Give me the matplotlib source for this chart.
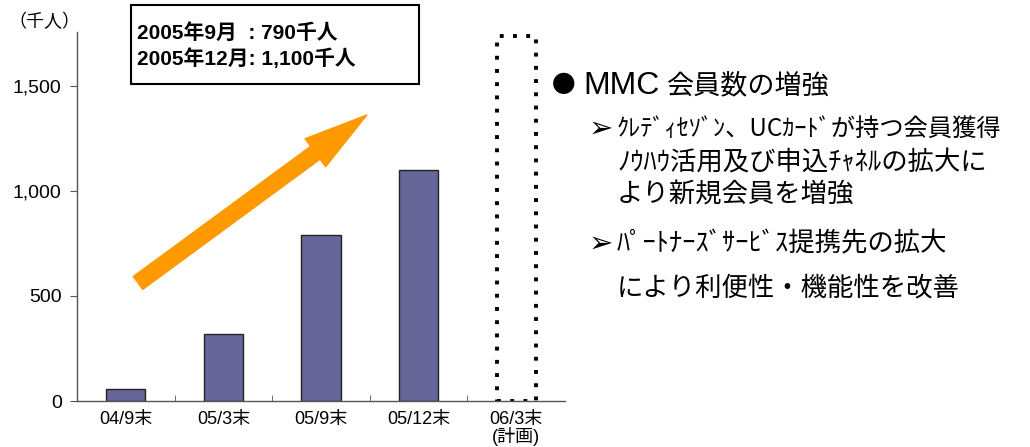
import matplotlib
matplotlib.use("Agg")
from matplotlib import pyplot as plt
import numpy as np

# data
categories = ["04/9末", "05/3末", "05/9末", "05/12末", "06/3末\n(計画)"]
members = [55, 320, 790, 1100]      # 千人, actual
plan_value = 1740                   # dotted outline for 06/3 plan
yticks = [0, 500, 1000, 1500]
ytick_labels = ["0", "500", "1,000", "1,500"]
box_lines = ["2005年9月  : 790千人", "2005年12月: 1,100千人"]
title_latin = "MMC"
title_jp = "会員数の増強"
sub_lines = [
    ("➢", "ｸﾚﾃﾞｨｾｿﾞﾝ、UCｶｰﾄﾞが持つ会員獲得"),
    ("", "ﾉｳﾊｳ活用及び申込ﾁｬﾈﾙの拡大に"),
    ("", "より新規会員を増強"),
    ("➢", "ﾊﾟｰﾄﾅｰｽﾞｻｰﾋﾞｽ提携先の拡大"),
    ("", "により利便性・機能性を改善"),
]

latin_cjk = ["Liberation Sans", "Noto Sans CJK JP"]
cjk = ["Noto Sans CJK JP", "DejaVu Sans"]

W, H = 1030, 447
fig = plt.figure(figsize=(W / 100, H / 100), dpi=100)
ax = fig.add_axes([77 / W, 1 - 401 / H, 488 / W, 369 / H])

x = np.arange(len(categories))
ax.bar(x[:len(members)], members, width=0.4, color="#666699",
       edgecolor="#222222", linewidth=1.0, zorder=2)
ax.bar(x[-1], plan_value, width=0.4, fill=False, edgecolor="black",
       linewidth=2.8, linestyle=(0, (1, 2.4)), zorder=2)

ax.set_xlim(-0.5, len(categories) - 0.5)
ax.set_ylim(0, 1757)

for s in ["top", "right"]:
    ax.spines[s].set_visible(False)
for s in ["left", "bottom"]:
    ax.spines[s].set_color("#555555")
    ax.spines[s].set_linewidth(1.0)

ax.set_yticks(yticks)
ax.set_yticklabels(ytick_labels, family="Liberation Sans", fontsize=14)
ax.tick_params(axis="y", direction="out", length=5, color="#555555", pad=6)

ax.set_xticks(x)
ax.set_xticklabels(categories, family=latin_cjk, fontsize=13, linespacing=0.95)
ax.set_xticks(x[:-1] + 0.5, minor=True)
ax.tick_params(axis="x", which="major", length=0, pad=7)
ax.tick_params(axis="x", which="minor", direction="in", length=4, color="#555555")

# orange trend arrow
ax.annotate("", xy=(2.47, 1362), xytext=(0.125, 562),
            arrowprops=dict(arrowstyle="simple,head_length=46,head_width=25,tail_width=11.5",
                            mutation_scale=1, color="#FF9900", shrinkA=0, shrinkB=0),
            zorder=3)

# unit label
fig.text(8 / W, 1 - 22 / H, "（千人）", family=cjk, fontsize=13, va="center", ha="left")

# annotation box
fig.patches.append(plt.Rectangle((131 / W, 1 - 84 / H), 288 / W, 79 / H,
                                 transform=fig.transFigure, fill=False,
                                 edgecolor="black", linewidth=1.5))
for i, line in enumerate(box_lines):
    fig.text(137 / W, 1 - (33 + 26 * i) / H, line, family=latin_cjk,
             fontweight="bold", fontsize=15, va="center", ha="left")

# right-hand description
fig.text(552 / W, 1 - 86 / H, "●", family=cjk, fontsize=17, va="center", ha="left")
fig.text(583 / W, 1 - 86 / H, title_latin, family="Liberation Sans", fontsize=23,
         va="center", ha="left")
fig.text(666 / W, 1 - 86 / H, title_jp, family=cjk, fontsize=19.5,
         va="center", ha="left")
ys = [129, 163, 194, 244, 288]
sizes = [17.5, 19, 19, 19, 19]
for (mark, txt), y, fs in zip(sub_lines, ys, sizes):
    if mark:
        fig.text(589 / W, 1 - y / H, mark, family=["DejaVu Sans"], fontsize=21,
                 va="center", ha="left")
    fig.text(617 / W, 1 - y / H, txt, family=cjk, fontsize=fs,
             va="center", ha="left")

fig.savefig("out.png", dpi=100)
